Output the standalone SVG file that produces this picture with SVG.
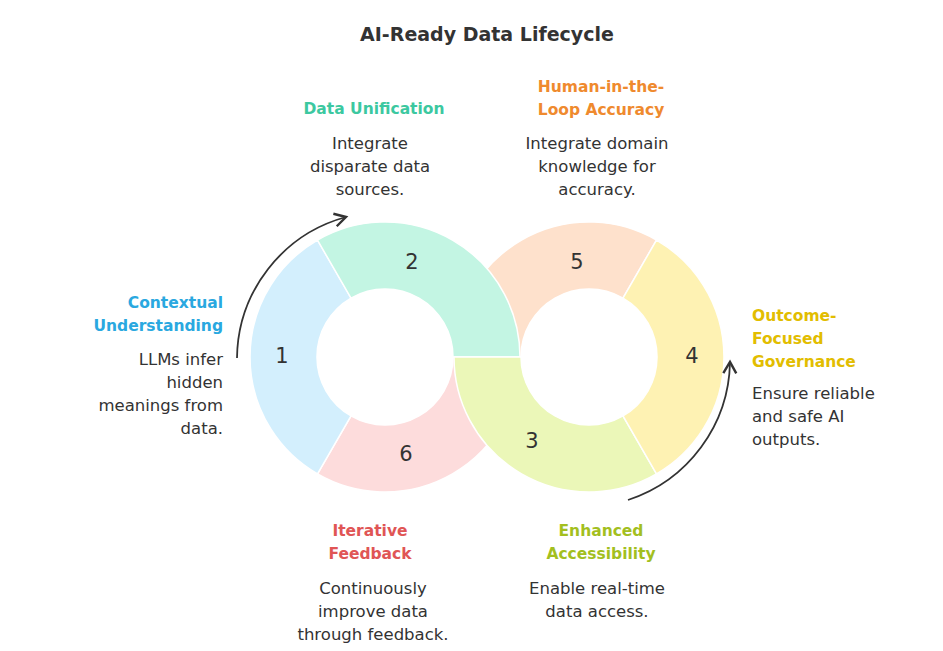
<svg xmlns="http://www.w3.org/2000/svg" width="943" height="651" viewBox="0 0 943 651">
<style>
text{font-family:"DejaVu Sans",sans-serif;fill:#333}
.t{font-size:19px;font-weight:bold;text-anchor:middle}
.h{font-size:15.5px;font-weight:bold}
.b{font-size:16.5px}
.n{font-size:21px;text-anchor:middle;dominant-baseline:middle}
.c{text-anchor:middle}.r{text-anchor:end}
.seg{stroke:#fff;stroke-width:1.5}
.arc{fill:none;stroke:#333;stroke-width:1.8;marker-end:url(#ah)}
</style>
<defs><marker id="ah" viewBox="0 0 10 10" refX="8" refY="5" markerWidth="9" markerHeight="9" orient="auto"><path d="M1,1L8,5L1,9" fill="none" stroke="#333" stroke-width="1.5"/></marker></defs>
<rect width="943" height="651" fill="#fff"/>
<text class="t" x="487" y="41">AI-Ready Data Lifecycle</text>
<g id="seg5"><path class="seg" fill="#fee1cc" d="M454,357 A135,135 0 0 1 656.5,240.1 L623,298.1 A68,68 0 0 0 521,357 Z"/><text class="n" x="577" y="263">5</text></g>
<g id="seg6"><path class="seg" fill="#fddcdc" d="M520,357 A135,135 0 0 1 317.5,473.9 L351,415.9 A68,68 0 0 0 453,357 Z"/><text class="n" x="406" y="455">6</text></g>
<g id="seg1"><path class="seg" fill="#d3effd" d="M317.5,473.9 A135,135 0 0 1 317.5,240.1 L351,298.1 A68,68 0 0 0 351,415.9 Z"/><text class="n" x="282" y="357">1</text></g>
<g id="seg2"><path class="seg" fill="#c3f5e3" d="M317.5,240.1 A135,135 0 0 1 520,357 L453,357 A68,68 0 0 0 351,298.1 Z"/><text class="n" x="412" y="263">2</text></g>
<g id="seg3"><path class="seg" fill="#ebf7b8" d="M454,357 A135,135 0 0 0 656.5,473.9 L623,415.9 A68,68 0 0 1 521,357 Z"/><text class="n" x="532" y="442">3</text></g>
<g id="seg4"><path class="seg" fill="#fef2b3" d="M656.5,240.1 A135,135 0 0 1 656.5,473.9 L623,415.9 A68,68 0 0 0 623,298.1 Z"/><text class="n" x="692" y="357">4</text></g>
<g id="connectors">
<path class="arc" d="M237,358 A148,148 0 0 1 346,217"/>
<path class="arc" d="M628,500 A148,148 0 0 0 730,362"/>
</g>
<g id="label-unification"><text class="h c" x="374" y="114" style="fill:#3cc8a0">Data Unification</text>
<text class="b c" x="370" y="149">Integrate</text><text class="b c" x="370" y="172">disparate data</text><text class="b c" x="370" y="195">sources.</text></g>
<g id="label-human"><text class="h c" x="601" y="92" style="fill:#ef8a2e">Human-in-the-</text><text class="h c" x="601" y="115" style="fill:#ef8a2e">Loop Accuracy</text>
<text class="b c" x="597" y="149">Integrate domain</text><text class="b c" x="597" y="172">knowledge for</text><text class="b c" x="597" y="195">accuracy.</text></g>
<g id="label-context"><text class="h r" x="223" y="308" style="fill:#2aa8e0">Contextual</text><text class="h r" x="223" y="331" style="fill:#2aa8e0">Understanding</text>
<text class="b r" x="223" y="365">LLMs infer</text><text class="b r" x="223" y="388">hidden</text><text class="b r" x="223" y="411">meanings from</text><text class="b r" x="223" y="434">data.</text></g>
<g id="label-governance"><text class="h" x="752" y="321" style="fill:#e2bd00">Outcome-</text><text class="h" x="752" y="344" style="fill:#e2bd00">Focused</text><text class="h" x="752" y="367" style="fill:#e2bd00">Governance</text>
<text class="b" x="752" y="399">Ensure reliable</text><text class="b" x="752" y="422">and safe AI</text><text class="b" x="752" y="445">outputs.</text></g>
<g id="label-feedback"><text class="h c" x="370" y="536" style="fill:#e05555">Iterative</text><text class="h c" x="370" y="559" style="fill:#e05555">Feedback</text>
<text class="b c" x="373" y="594">Continuously</text><text class="b c" x="373" y="617">improve data</text><text class="b c" x="373" y="640">through feedback.</text></g>
<g id="label-access"><text class="h c" x="601" y="536" style="fill:#a3bf1f">Enhanced</text><text class="h c" x="601" y="559" style="fill:#a3bf1f">Accessibility</text>
<text class="b c" x="597" y="594">Enable real-time</text><text class="b c" x="597" y="617">data access.</text></g>
</svg>
